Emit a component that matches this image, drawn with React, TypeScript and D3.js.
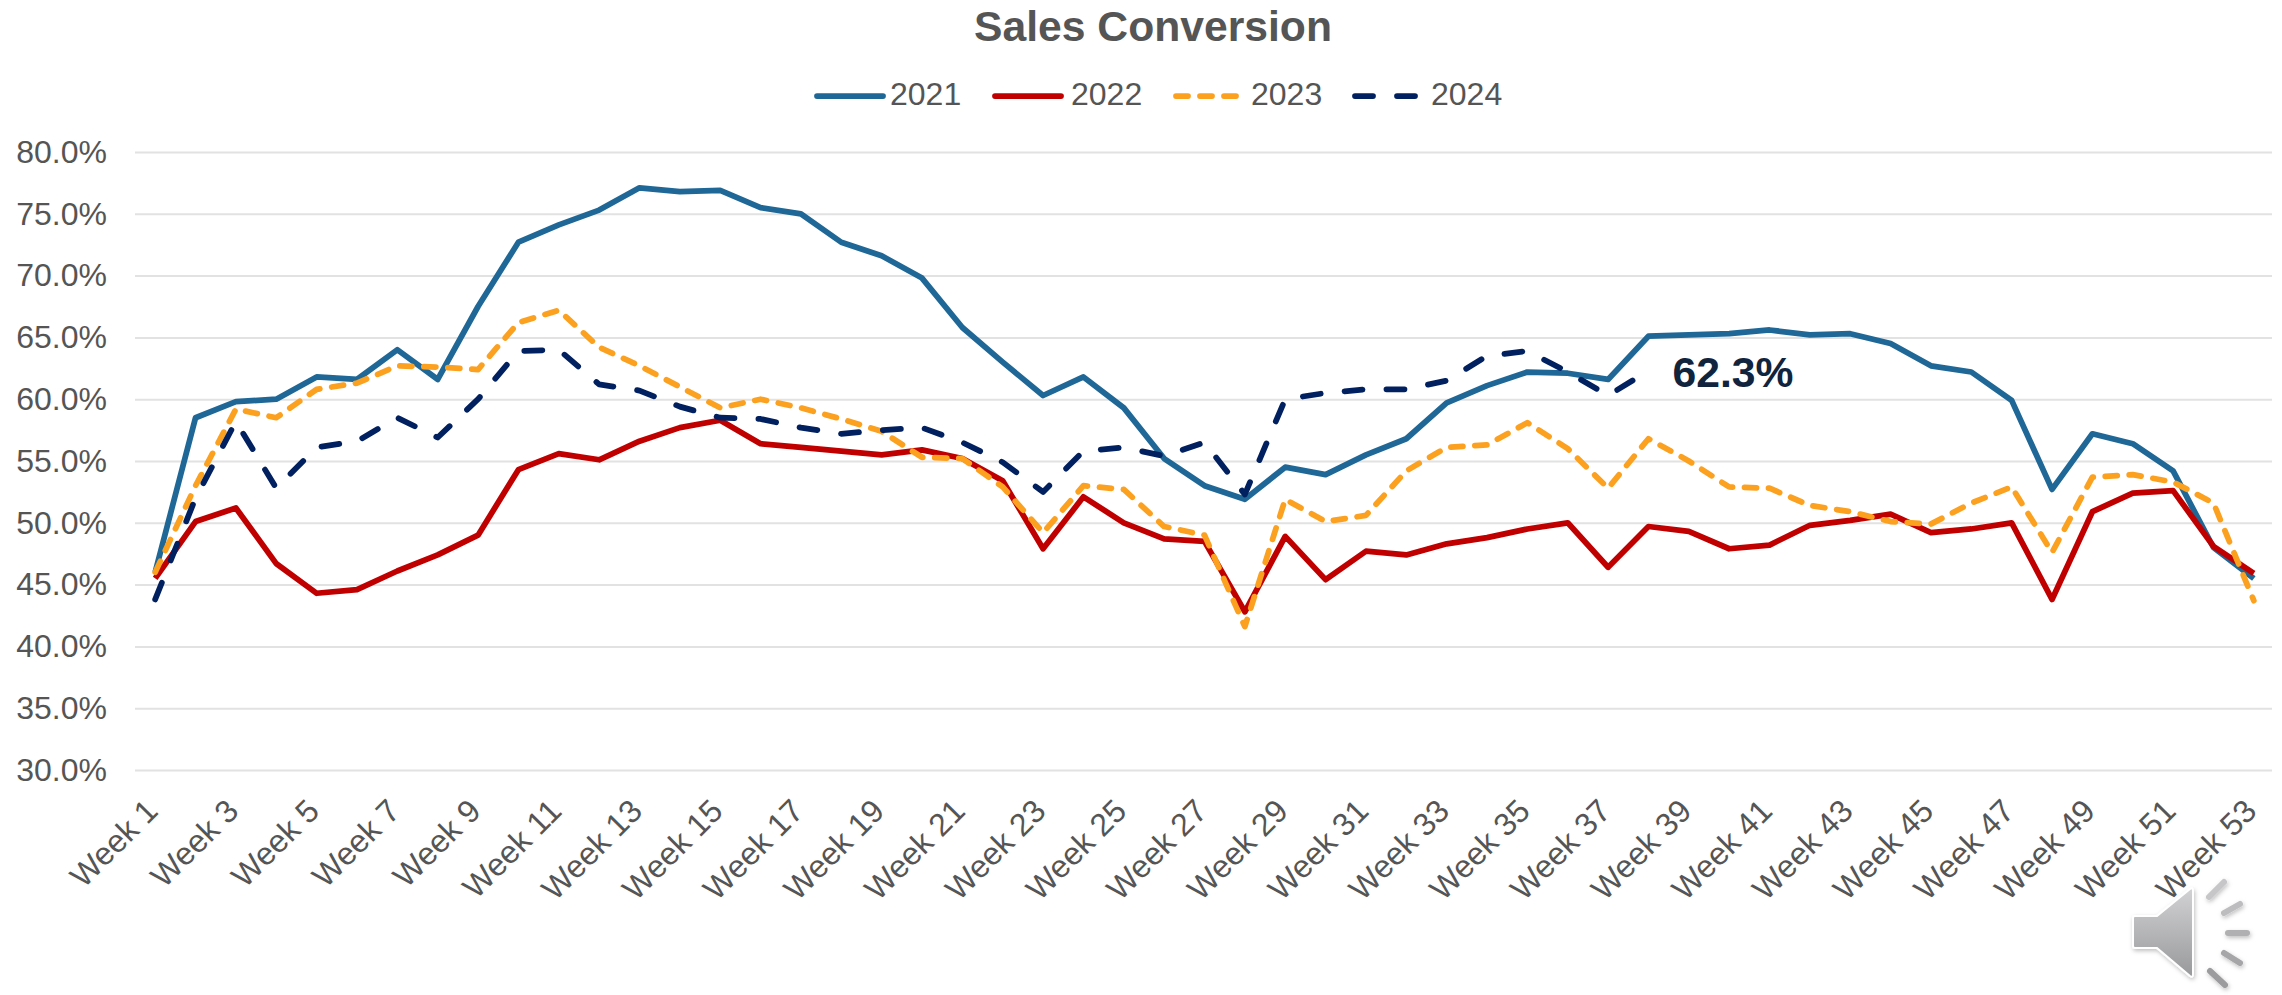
import React, { useEffect, useRef } from 'react';
import * as d3 from 'd3';

const weeks = d3.range(1, 54).map((w) => `Week ${w}`);
const yTicks = [30, 35, 40, 45, 50, 55, 60, 65, 70, 75, 80];

const sales2021 = [46, 58.5, 59.8, 60, 61.8, 61.6, 64, 61.6, 67.5, 72.7, 74.1, 75.3, 77.1, 76.8, 76.9, 75.5, 75, 72.7, 71.6, 69.8, 65.8, 63, 60.3, 61.8, 59.3, 55.2, 53, 51.9, 54.5, 53.9, 55.5, 56.8, 59.7, 61.1, 62.2, 62.1, 61.6, 65.1, 65.2, 65.3, 65.6, 65.2, 65.3, 64.5, 62.7, 62.2, 59.9, 52.7, 57.2, 56.4, 54.2, 48, 45.5];
const sales2022 = [45.5, 50.1, 51.2, 46.7, 44.3, 44.6, 46.1, 47.4, 49, 54.3, 55.6, 55.1, 56.6, 57.7, 58.3, 56.4, 56.1, 55.8, 55.5, 55.9, 55.2, 53.4, 47.9, 52.1, 50, 48.7, 48.5, 42.8, 48.9, 45.4, 47.7, 47.4, 48.3, 48.8, 49.5, 50, 46.4, 49.7, 49.3, 47.9, 48.2, 49.8, 50.2, 50.7, 49.2, 49.5, 50, 43.8, 50.9, 52.4, 52.6, 48.1, 45.9];
const sales2023 = [46, 53, 59.2, 58.5, 60.8, 61.3, 62.7, 62.6, 62.4, 66.2, 67.2, 64.2, 62.7, 61, 59.3, 60, 59.3, 58.4, 57.4, 55.3, 55.2, 52.9, 49.2, 53, 52.7, 49.7, 49, 41.6, 51.9, 50.1, 50.6, 54.2, 56.1, 56.3, 58.1, 56, 52.8, 56.8, 55, 52.9, 52.8, 51.4, 50.9, 50.1, 49.9, 51.6, 52.9, 47.6, 53.7, 53.9, 53.3, 51.6, 43.7];
const sales2024 = [43.8, 52, 58.2, 52.8, 56.1, 56.6, 58.5, 56.9, 60, 63.9, 64, 61.2, 60.7, 59.4, 58.5, 58.4, 57.7, 57.2, 57.5, 57.7, 56.5, 54.9, 52.5, 55.8, 56.1, 55.4, 56.5, 52.3, 60, 60.5, 60.8, 60.8, 61.5, 63.5, 63.9, 62.2, 60.3, 62.3];

const seriesNames = ['2021', '2022', '2023', '2024'];
const seriesValues = [sales2021, sales2022, sales2023, sales2024];
const seriesColors = ['#1F6796', '#C00000', '#FCA01F', '#002060'];
const seriesDashes = [null, null, '12 12', '18 24'];

const width = 2282;
const height = 995;
const left = 135;
const right = 2272;
const top = 152;
const bottom = 770;
const textColor = '#555555';
const font = '"Liberation Sans", Arial, sans-serif';

export default function App() {
  const svgRef = useRef<SVGSVGElement>(null);

  useEffect(() => {
    const svg = d3.select(svgRef.current);
    svg.selectAll('*').remove();

    const x = d3.scalePoint<string>().domain(weeks).range([left, right + 2]).padding(0.5);
    const y = d3.scaleLinear().domain([30, 80]).range([bottom, top]);

    // gridlines + y labels
    const yAxis = svg.append('g')
      .attr('transform', `translate(${left},0)`)
      .call(d3.axisLeft(y).tickValues(yTicks).tickSize(-(right - left)).tickPadding(28).tickFormat((d) => `${(+d).toFixed(1)}%`));
    yAxis.select('.domain').remove();
    yAxis.selectAll('line').attr('stroke', '#E2E2E2').attr('stroke-width', 2);
    yAxis.selectAll('text').attr('fill', textColor).attr('font-size', 32).attr('font-family', font);

    // week labels, every second one
    const xAxis = svg.append('g')
      .attr('transform', `translate(0,${bottom})`)
      .call(d3.axisBottom(x).tickValues(weeks.filter((_, i) => i % 2 === 0)).tickSize(0));
    xAxis.select('.domain').remove();
    xAxis.selectAll('text')
      .attr('fill', textColor)
      .attr('font-size', 32)
      .attr('font-family', font)
      .attr('text-anchor', 'end')
      .attr('dy', 0)
      .attr('y', 0)
      .attr('transform', 'translate(4,43) rotate(-45)');

    const lineGen = d3.line<number>().x((_, i) => x(weeks[i])!).y((d) => y(d));

    seriesValues.forEach((vals, i) => {
      svg.append('path')
        .datum(vals)
        .attr('d', lineGen)
        .attr('fill', 'none')
        .attr('stroke', seriesColors[i])
        .attr('stroke-width', 5.75)
        .attr('stroke-linejoin', 'round')
        .attr('stroke-linecap', i > 1 ? 'round' : 'butt')
        .attr('stroke-dasharray', seriesDashes[i]);
    });

    // label on last 2024 point
    const lastIdx = sales2024.length - 1;
    svg.append('text')
      .attr('x', x(weeks[lastIdx])! + 24)
      .attr('y', y(sales2024[lastIdx]) + 16)
      .attr('fill', '#10243E')
      .attr('font-size', 42.67)
      .attr('font-weight', 700)
      .attr('font-family', font)
      .text(`${sales2024[lastIdx].toFixed(1)}%`);

    svg.append('text')
      .attr('x', 1153)
      .attr('y', 41)
      .attr('text-anchor', 'middle')
      .attr('fill', textColor)
      .attr('font-size', 42.67)
      .attr('font-weight', 700)
      .attr('font-family', font)
      .text('Sales Conversion');

    // legend
    const legendLineX = [817, 995, 1176, 1355];
    const legendTextX = [890, 1071, 1251, 1431];
    const legend = svg.append('g').selectAll('g').data(seriesNames).join('g');
    legend.append('line')
      .attr('x1', (_, i) => legendLineX[i])
      .attr('x2', (_, i) => legendLineX[i] + 66)
      .attr('y1', 96)
      .attr('y2', 96)
      .attr('stroke', (_, i) => seriesColors[i])
      .attr('stroke-width', 5.75)
      .attr('stroke-linecap', 'round')
      .attr('stroke-dasharray', (_, i) => seriesDashes[i]);
    legend.append('text')
      .attr('x', (_, i) => legendTextX[i])
      .attr('y', 105)
      .attr('fill', textColor)
      .attr('font-size', 32)
      .attr('font-family', font)
      .text((d) => d);

    // speaker icon bottom right corner
    const defs = svg.append('defs');
    const grad = defs.append('linearGradient').attr('id', 'speakerFill').attr('x1', 0).attr('y1', 0).attr('x2', 0).attr('y2', 1);
    grad.append('stop').attr('offset', '0%').attr('stop-color', '#D2D2D4');
    grad.append('stop').attr('offset', '100%').attr('stop-color', '#98999B');
    const shadow = defs.append('filter').attr('id', 'speakerShadow').attr('x', '-20%').attr('y', '-20%').attr('width', '140%').attr('height', '140%');
    shadow.append('feDropShadow').attr('dx', 1).attr('dy', 2).attr('stdDeviation', 2).attr('flood-color', '#000').attr('flood-opacity', 0.25);
    const speaker = svg.append('g').attr('filter', 'url(#speakerShadow)');
    speaker.append('path')
      .attr('d', 'M2135 916 L2157 916 L2190 889 Q2193 887 2193 891 L2193 974 Q2193 978 2190 976 L2157 948 L2135 948 Q2133 948 2133 946 L2133 918 Q2133 916 2135 916 Z')
      .attr('fill', 'url(#speakerFill)')
      .attr('stroke', '#fff')
      .attr('stroke-width', 2);
    [[2209, 897, 2224, 882], [2224, 913, 2240, 904], [2228, 933, 2247, 933], [2224, 953, 2240, 963], [2210, 971, 2225, 985]].forEach((b, i) => {
      speaker.append('line')
        .attr('x1', b[0]).attr('y1', b[1]).attr('x2', b[2]).attr('y2', b[3])
        .attr('stroke', ['#C6C6C8', '#BDBDBF', '#B0B0B2', '#A6A6A8', '#9C9C9E'][i])
        .attr('stroke-width', 6)
        .attr('stroke-linecap', 'round');
    });
  }, []);

  return (
    <svg ref={svgRef} width={width} height={height} viewBox={`0 0 ${width} ${height}`}
      style={{ position: 'absolute', left: 0, top: 0, background: '#fff' }}>
    </svg>
  );
}
